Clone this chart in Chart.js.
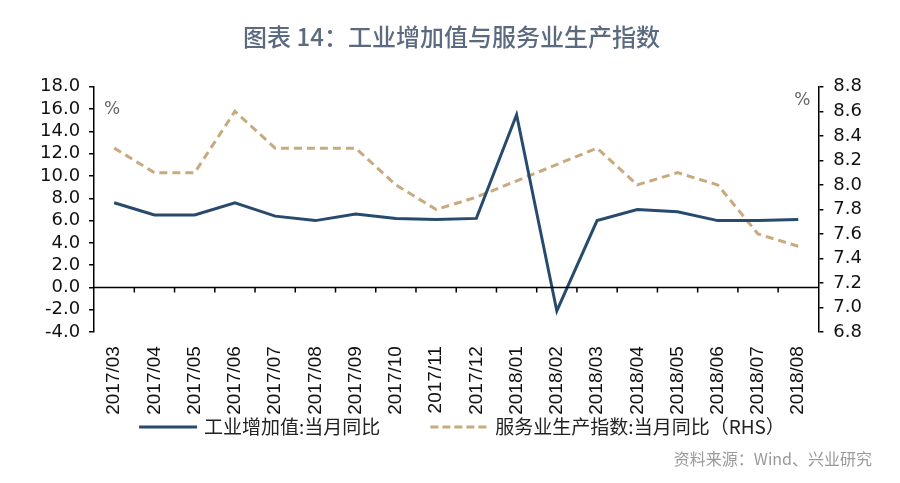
<!DOCTYPE html>
<html>
<head>
<meta charset="utf-8">
<script src="https://cdn.jsdelivr.net/npm/chart.js@4"></script>
<style>
  html, body { margin: 0; padding: 0; background: #fff; }
  #wrap { width: 900px; height: 483px; }
</style>
</head>
<body>
<div id="wrap"><canvas id="chartIndustria"></canvas></div>
<script>
// datos
const meses = ["2017/03", "2017/04", "2017/05", "2017/06", "2017/07", "2017/08", "2017/09", "2017/10", "2017/11",
  "2017/12", "2018/01", "2018/02", "2018/03", "2018/04", "2018/05", "2018/06", "2018/07", "2018/08"]
const industria = [7.6, 6.5, 6.5, 7.6, 6.4, 6.0, 6.6, 6.2, 6.1, 6.2, 15.5, -2.1, 6.0, 7.0, 6.8, 6.0, 6.0, 6.1]
// ene y feb 2018 sin dato: la línea los une
const servicios = [8.3, 8.1, 8.1, 8.6, 8.3, 8.3, 8.3, 8.0, 7.8, 7.9, null, null, 8.3, 8.0, 8.1, 8.0, 7.6, 7.5]
const ticksIzq = { min: -4, max: 18, step: 2 }
const ticksDer = { min: 6.8, max: 8.8, step: 0.2 }

const colorInd = "#274a6d"
const colorSer = "#c8aa7e"
const fuenteNum = "'DejaVu Sans', sans-serif"
const fuenteEje = "'Liberation Sans', Arial, sans-serif"
const fuenteCJK = "'Noto Sans CJK SC', sans-serif"

// línea del cero con sus marcas y los "%" de cada eje
const ejeCero = {
  id: "ejeCero",
  afterDraw(chart) {
    const { ctx, chartArea, scales } = chart
    const y0 = scales.y.getPixelForValue(0)
    ctx.save()
    ctx.strokeStyle = "#000"
    ctx.lineWidth = 1.5
    ctx.beginPath()
    ctx.moveTo(chartArea.left, y0)
    ctx.lineTo(chartArea.right, y0)
    for (let i = 1; i < meses.length; i++) {
      const x = (scales.x.getPixelForValue(i - 1) + scales.x.getPixelForValue(i)) / 2
      ctx.moveTo(x, y0)
      ctx.lineTo(x, y0 + 5)
    }
    ctx.stroke()
    ctx.fillStyle = "#666"
    ctx.font = "17px " + fuenteNum
    ctx.textBaseline = "middle"
    ctx.textAlign = "left"
    ctx.fillText("%", chartArea.left + 10, scales.y.getPixelForValue(16))
    ctx.textAlign = "right"
    ctx.fillText("%", chartArea.right - 8, scales.y2.getPixelForValue(8.69))
    ctx.restore()
  },
}

// leyenda propia: el espacio entre entradas no sale bien con la de Chart.js
const leyenda = {
  id: "leyenda",
  afterDraw(chart) {
    const { ctx, chartArea } = chart
    const y = chartArea.bottom + 95
    let x = chartArea.left + 45
    ctx.save()
    ctx.font = "19px " + fuenteCJK
    ctx.textBaseline = "middle"
    ctx.textAlign = "left"
    chart.data.datasets.forEach((ds) => {
      ctx.strokeStyle = ds.borderColor
      ctx.lineWidth = ds.borderWidth
      ctx.setLineDash(ds.borderDash ? [8, 4] : [])
      ctx.beginPath()
      ctx.moveTo(x, y)
      ctx.lineTo(x + 58, y)
      ctx.stroke()
      ctx.fillStyle = "#222"
      ctx.fillText(ds.label, x + 65, y)
      x += 65 + ctx.measureText(ds.label).width + 50
    })
    ctx.restore()
  },
}

new Chart(document.getElementById("chartIndustria"), {
  type: "line",
  data: {
    labels: meses,
    datasets: [
      {
        label: "工业增加值:当月同比",
        data: industria,
        borderColor: colorInd,
        backgroundColor: colorInd,
        borderWidth: 3,
        pointRadius: 0,
        tension: 0,
        yAxisID: "y",
      },
      {
        label: "服务业生产指数:当月同比（RHS）",
        data: servicios,
        borderColor: colorSer,
        backgroundColor: colorSer,
        borderWidth: 3,
        borderDash: [8, 5],
        pointRadius: 0,
        tension: 0,
        spanGaps: true,
        yAxisID: "y2",
      },
    ],
  },
  options: {
    responsive: true,
    maintainAspectRatio: false,
    animation: false,
    layout: { padding: { left: 31, right: 28, top: 8, bottom: 4 } },
    plugins: {
      title: {
        display: true,
        text: "图表 14：工业增加值与服务业生产指数",
        color: "#5b6a80",
        font: { family: fuenteCJK, size: 24, weight: "500" },
        padding: { top: 14, bottom: 36 },
      },
      subtitle: {
        display: true,
        position: "bottom",
        align: "end",
        text: "资料来源：Wind、兴业研究",
        color: "#9a9a9a",
        font: { family: fuenteCJK, size: 16 },
        padding: { top: 21, bottom: 10 },
      },
      legend: { display: false },
      tooltip: { enabled: false },
    },
    scales: {
      x: {
        offset: true,
        grid: { display: false, drawTicks: false },
        border: { display: false },
        ticks: {
          color: "#111",
          font: { family: fuenteEje, size: 19 },
          maxRotation: 90,
          minRotation: 90,
          autoSkip: false,
          padding: 14,
        },
      },
      y: {
        position: "left",
        min: ticksIzq.min,
        max: ticksIzq.max,
        grid: { drawOnChartArea: false, color: "#000", tickLength: 5, lineWidth: 1.5 },
        border: { display: true, color: "#000", width: 1.5 },
        ticks: {
          stepSize: ticksIzq.step,
          autoSkip: false,
          color: "#111",
          font: { family: fuenteNum, size: 18 },
          padding: 9,
          callback: (v) => Number(v).toFixed(1),
        },
      },
      y2: {
        position: "right",
        min: ticksDer.min,
        max: ticksDer.max,
        grid: { drawOnChartArea: false, color: "#000", tickLength: 5, lineWidth: 1.5 },
        border: { display: true, color: "#000", width: 1.5 },
        ticks: {
          stepSize: ticksDer.step,
          autoSkip: false,
          color: "#111",
          font: { family: fuenteNum, size: 18 },
          padding: 10,
          callback: (v) => Number(v).toFixed(1),
        },
      },
    },
  },
  plugins: [ejeCero, leyenda],
})
</script>
</body>
</html>
